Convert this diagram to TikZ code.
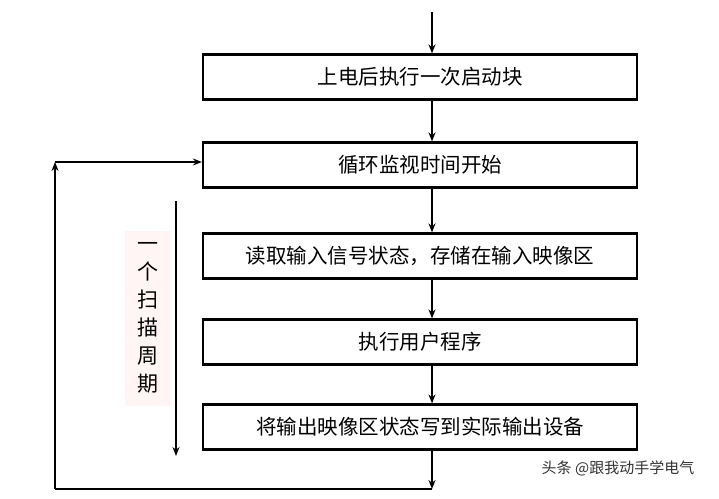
\documentclass[tikz,border=0pt]{standalone}
\usepackage{fontspec}
\setmainfont{Noto Sans CJK SC}
\usetikzlibrary{arrows.meta}
\begin{document}
\begin{tikzpicture}[x=1pt,y=-1pt,
  box/.style={draw,line width=2.2pt,minimum width=434pt,minimum height=45pt,inner sep=0pt,font=\fontsize{20.5}{24}\selectfont},
  ln/.style={line width=2pt,-{Stealth[length=9pt,width=7pt]}}]
\useasboundingbox[fill=white] (0,0) rectangle (719,498);
\node[box] (b1) at (420,77) {上电后执行一次启动块};
\node[box] (b2) at (420,165) {循环监视时间开始};
\node[box] (b3) at (420,256) {读取输入信号状态，存储在输入映像区};
\node[box] (b4) at (420,342) {执行用户程序};
\node[box] (b5) at (420,427) {将输出映像区状态写到实际输出设备};
\coordinate (t) at (432,12);
\draw[ln] (t) -- (b1.north -| t);
\draw[ln] (b1.south -| t) -- (b2.north -| t);
\draw[ln] (b2.south -| t) -- (b3.north -| t);
\draw[ln] (b3.south -| t) -- (b4.north -| t);
\draw[ln] (b4.south -| t) -- (b5.north -| t);
\coordinate (bot) at (432,489);
\coordinate (bl) at (55,489);
\coordinate (tl) at (55,162);
\draw[ln] (b5.south -| t) -- (bot);
\draw[line width=2pt] (bot) -- (bl);
\draw[ln] (bl) -- (tl);
\draw[ln] (tl) -- (b2.west |- tl);
\coordinate (ca) at (176,201);
\coordinate (cb) at (176,456);
\draw[ln,line width=1.6pt] (ca) -- (cb);
\node[fill=pink!15,minimum width=46pt,minimum height=175pt,inner sep=0pt,font=\fontsize{21}{28}\selectfont,align=center] (lab) at (148,318) {一\\个\\扫\\描\\周\\期};
\node[font=\fontsize{15}{17}\selectfont,text=black!80] (wm) at (618,468) {头条 @跟我动手学电气};
\end{tikzpicture}
\end{document}
